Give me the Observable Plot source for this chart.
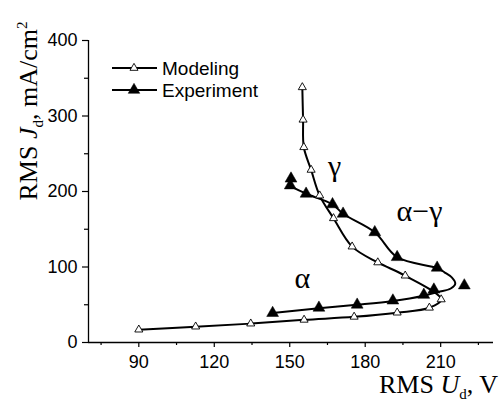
<!DOCTYPE html>
<html><head><meta charset="utf-8">
<script src="https://cdn.jsdelivr.net/npm/d3@7"></script>
<script src="https://cdn.jsdelivr.net/npm/@observablehq/plot@0.6"></script>
<style>body{margin:0;background:#fff}</style>
</head><body><div id="chart"></div>
<script>
// Modeling (open triangles)
const modelU = [90, 112.6, 134.5, 155.7, 175.6, 192.7, 205.5, 210.2, 195.9, 185, 174.8, 167.4, 161.9, 158.5, 155.6, 155.3, 155];
const modelJ = [17, 21, 25, 30, 34, 39.5, 46, 57, 88.5, 106, 127, 164.5, 194.6, 228.6, 258.6, 295, 338];
// Experiment (filled triangles)
const expU = [143.2, 161.6, 176.8, 191, 203.3, 207.3, 219.4, 208.6, 192.7, 183.8, 171.2, 167, 156.5, 150.2, 150.5];
const expJ = [39, 46, 50, 55.5, 63, 70, 75.5, 99, 113, 146, 170.5, 183, 197, 208, 217];
// Experiment smooth fit curve
const fitU = [143.2, 161.6, 176.8, 191, 203.3, 209, 214, 215.8, 214.5, 211.5, 208.6, 192.7, 183.8, 171.2, 167, 156.5, 150.2];
const fitJ = [39, 45.5, 50, 55, 62, 67, 71.5, 78, 86, 93, 98.5, 113, 146, 170.5, 183, 197, 207];
// Axis ticks
const xMajor = [90, 120, 150, 180, 210];
const xMinor = [75, 105, 135, 165, 195, 225];
const yMajor = [0, 100, 200, 300, 400];
const yMinor = [50, 150, 250, 350];
// Region labels
const annoLabel = ["γ", "α−γ", "α"];
const annoU = [167.8, 201.6, 155];
const annoJ = [221, 161, 72];
const legendNames = ["Modeling", "Experiment"];

const model = modelU.map((u, i) => ({u, j: modelJ[i]}));
const exp = expU.map((u, i) => ({u, j: expJ[i]}));
const fit = fitU.map((u, i) => ({u, j: fitJ[i]}));
const anno = annoLabel.map((label, i) => ({label, u: annoU[i], j: annoJ[i]}));

const serif = "'Liberation Serif', 'Times New Roman', 'DejaVu Serif', serif";
const sans = "Arial, 'Liberation Sans', sans-serif";

const plot = Plot.plot({
  width: 501, height: 405,
  marginLeft: 88, marginRight: 8, marginTop: 40, marginBottom: 63,
  x: {domain: [70, 231]},
  y: {domain: [0, 400]},
  style: {fontFamily: sans, fontSize: "18px", color: "#000", background: "#fff", overflow: "visible"},
  marks: [
    Plot.axisX({ticks: xMajor, tickSize: 5, tickPadding: 8, label: null, tickFormat: d => d, fontSize: 18, strokeWidth: 1.2}),
    Plot.axisX({ticks: xMinor, tickSize: 3, text: null, label: null, strokeWidth: 1.2}),
    Plot.axisY({ticks: yMajor, tickSize: 6, tickPadding: 5, label: null, tickFormat: d => d, fontSize: 18, strokeWidth: 1.2}),
    Plot.axisY({ticks: yMinor, tickSize: 4, text: null, label: null, strokeWidth: 1.2}),
    Plot.ruleX([70], {strokeWidth: 1.3}),
    Plot.ruleY([0], {strokeWidth: 1.3}),
    Plot.line(model, {x: "u", y: "j", curve: "catmull-rom", stroke: "black", strokeWidth: 2}),
    Plot.line(fit, {x: "u", y: "j", curve: "catmull-rom", stroke: "black", strokeWidth: 2}),
    Plot.dot(model, {x: "u", y: "j", symbol: "triangle", r: 3, fill: "white", stroke: "black", strokeWidth: 0.9}),
    Plot.dot(exp, {x: "u", y: "j", symbol: "triangle", r: 4.4, fill: "black", stroke: "black", strokeWidth: 0.5}),
    Plot.text(anno, {x: "u", y: "j", text: "label", fontFamily: serif, fontSize: 30, lineAnchor: "bottom"})
  ]
});
document.getElementById("chart").appendChild(plot);

const svg = d3.select(plot);
// Legend
const leg = svg.append("g").attr("text-anchor", "start");
legendNames.forEach((name, i) => {
  const y = 68 + i * 22;
  leg.append("line").attr("x1", 112).attr("x2", 157).attr("y1", y).attr("y2", y)
    .attr("stroke", "black").attr("stroke-width", 2);
  const size = i === 0 ? 28 : 58;
  leg.append("path").attr("transform", `translate(134,${y})`)
    .attr("d", d3.symbol(d3.symbolTriangle, size)())
    .attr("fill", i === 0 ? "white" : "black").attr("stroke", "black").attr("stroke-width", i === 0 ? 0.9 : 0.5);
  leg.append("text").attr("x", 162).attr("y", y + 6.5).attr("text-anchor", "start")
    .attr("font-family", sans).attr("font-size", 19).attr("fill", "black").text(name);
});
// X title
const xt = svg.append("text").attr("x", 498).attr("y", 393).attr("text-anchor", "end")
  .attr("font-family", serif).attr("font-size", 26).attr("fill", "black");
xt.append("tspan").text("RMS ");
xt.append("tspan").attr("font-style", "italic").text("U");
xt.append("tspan").attr("font-size", 15).attr("dy", 6).text("d");
xt.append("tspan").attr("dy", -6).text(", V");
// Y title
const yt = svg.append("text").attr("transform", "translate(37,111) rotate(-90)").attr("text-anchor", "middle")
  .attr("font-family", serif).attr("font-size", 26).attr("fill", "black");
yt.append("tspan").text("RMS ");
yt.append("tspan").attr("font-style", "italic").text("J");
yt.append("tspan").attr("font-size", 15).attr("dy", 6).text("d");
yt.append("tspan").attr("dy", -6).text(", mA/cm");
yt.append("tspan").attr("font-size", 15).attr("dy", -10).text("2");
</script>
</body></html>
